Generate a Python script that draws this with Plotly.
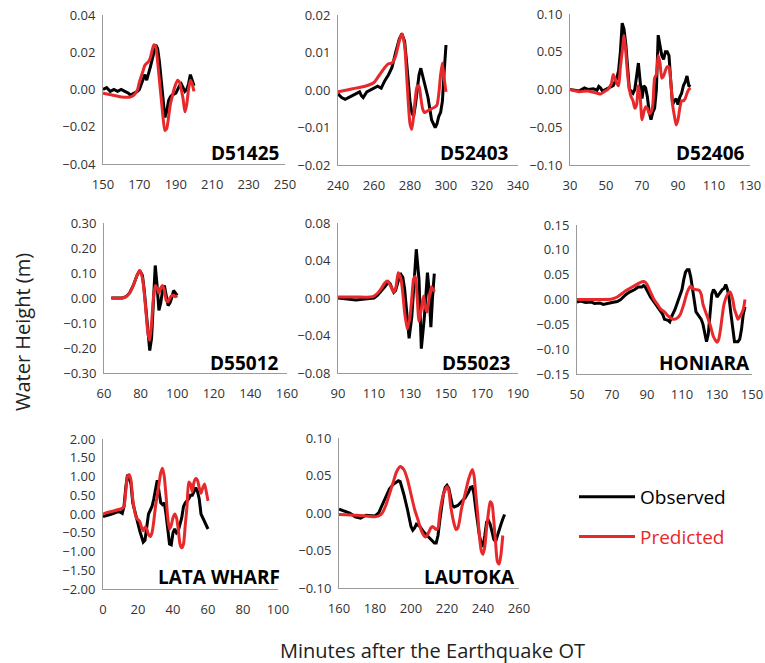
import plotly.graph_objects as go

W, H = 765, 663
FONT = "Century Gothic, Open Sans, sans-serif"
RED = "#e8292b"

stations = ["D51425", "D52403", "D52406", "D55012", "D55023", "HONIARA", "LATA WHARF", "LAUTOKA"]
x_ranges = [[150, 250], [240, 340], [30, 130], [60, 160], [90, 190], [50, 150], [0, 100], [160, 260]]
y_ranges = [[-0.04, 0.04], [-0.02, 0.02], [-0.10, 0.10], [-0.30, 0.30], [-0.08, 0.08], [-0.15, 0.15], [-2.0, 2.0], [-0.10, 0.10]]
y_dticks = [0.02, 0.01, 0.05, 0.10, 0.04, 0.05, 0.5, 0.05]
x_dtick = 20

# ---------------- D51425 ----------------
d51425_obs_t = [150, 152, 154, 156, 158, 160, 162, 164, 165, 167, 169, 170, 171, 172, 173, 174, 175, 176, 177, 178, 179, 180, 181, 182, 183, 184, 185, 186, 187, 188, 190, 191, 192, 193, 194, 195, 196, 197, 198, 199, 200]
d51425_obs_h = [0.000, 0.001, -0.001, 0.000, -0.001, 0.000, -0.001, -0.002, -0.003, -0.002, -0.001, 0.000, 0.003, 0.005, 0.008, 0.005, 0.008, 0.012, 0.016, 0.020, 0.024, 0.022, 0.015, 0.005, -0.005, -0.015, -0.012, -0.006, -0.004, -0.003, -0.002, 0.000, 0.002, 0.003, 0.001, -0.001, 0.000, 0.003, 0.008, 0.005, 0.002]
d51425_pred_t = [150, 155, 160, 165, 167, 169, 170, 172, 173, 175, 176, 177, 178, 179, 180, 181, 182, 183, 184, 185, 186, 187, 188, 189, 190, 191, 192, 193, 194, 195, 196, 197, 198, 199, 200]
d51425_pred_h = [-0.002, -0.003, -0.004, -0.004, -0.003, 0.000, 0.004, 0.010, 0.013, 0.015, 0.017, 0.021, 0.024, 0.023, 0.015, 0.005, -0.005, -0.015, -0.022, -0.021, -0.015, -0.008, -0.004, 0.000, 0.003, 0.005, 0.004, 0.000, -0.005, -0.012, -0.008, 0.000, 0.005, 0.003, -0.001]

# ---------------- D52403 ----------------
d52403_obs_t = [240, 242, 244, 246, 248, 250, 252, 253, 254, 256, 258, 260, 262, 264, 266, 268, 270, 272, 274, 275.5, 277, 278, 279, 280, 281, 282, 283, 284, 285, 286, 288, 290, 292, 294, 295, 296, 297, 298, 299, 300]
d52403_obs_h = [-0.001, -0.002, -0.0025, -0.002, -0.0015, -0.001, -0.0005, -0.0015, -0.002, -0.0005, 0.000, 0.0005, 0.001, 0.0005, 0.0025, 0.004, 0.006, 0.010, 0.0135, 0.015, 0.013, 0.008, 0.002, -0.003, -0.006, -0.007, -0.004, 0.001, 0.004, 0.0058, 0.002, -0.002, -0.008, -0.010, -0.009, -0.007, -0.006, -0.003, 0.005, 0.012]
d52403_pred_t = [240, 245, 250, 255, 260, 263, 266, 268, 270, 272, 274, 275.5, 277, 278, 279, 280, 281, 282, 283, 284, 285, 286, 287, 288, 290, 292, 294, 295, 296, 297, 298, 299, 300]
d52403_pred_h = [-0.0005, 0.000, 0.0005, 0.001, 0.002, 0.004, 0.006, 0.007, 0.0072, 0.009, 0.013, 0.015, 0.012, 0.005, -0.003, -0.009, -0.0105, -0.007, -0.002, 0.001, 0.001, -0.002, -0.005, -0.006, -0.0055, -0.005, -0.0045, -0.004, -0.001, 0.004, 0.0072, 0.003, -0.0005]

# ---------------- D52406 ----------------
d52406_obs_t = [30, 35, 38, 40, 43, 45, 46, 47, 48, 50, 52, 54, 55, 56, 57, 58, 59, 60, 61, 62, 63, 64, 65, 66, 67, 68, 69, 70, 71, 72, 73, 74, 75, 76, 77, 78, 79, 80, 81, 82, 83, 84, 85, 86, 87, 88, 89, 90, 91, 92, 93, 94, 95, 96, 97]
d52406_obs_h = [0.000, -0.002, 0.002, 0.000, 0.001, -0.001, 0.004, 0.002, -0.002, 0.000, 0.003, 0.005, 0.010, 0.015, 0.025, 0.050, 0.088, 0.080, 0.060, 0.025, 0.000, -0.002, -0.005, 0.000, 0.015, 0.035, 0.010, -0.012, 0.005, 0.002, -0.010, -0.030, -0.040, -0.030, -0.025, 0.000, 0.072, 0.060, 0.045, 0.040, 0.050, 0.050, 0.045, 0.010, -0.020, -0.015, -0.012, -0.020, -0.010, -0.005, 0.005, 0.010, 0.018, 0.005, 0.004]
d52406_pred_t = [30, 35, 40, 45, 47, 49, 51, 53, 54, 55, 56, 57, 58, 59, 60, 61, 62, 63, 64, 65, 66, 67, 68, 69, 70, 71, 72, 73, 74, 75, 76, 77, 78, 79, 80, 81, 82, 83, 84, 85, 86, 87, 88, 89, 90, 91, 92, 93, 94, 95, 96, 97]
d52406_pred_h = [0.000, -0.003, -0.002, -0.005, -0.006, -0.003, 0.000, 0.008, 0.020, 0.015, 0.008, 0.005, 0.030, 0.050, 0.072, 0.050, 0.020, 0.000, -0.010, -0.015, -0.025, -0.020, 0.005, -0.010, -0.040, -0.030, -0.023, -0.025, -0.032, -0.030, -0.020, 0.015, 0.020, 0.045, 0.035, 0.015, 0.018, 0.025, 0.030, 0.030, 0.010, -0.020, -0.035, -0.047, -0.040, -0.025, -0.015, -0.015, -0.012, -0.005, 0.000, 0.002]

# ---------------- D55012 ----------------
d55012_obs_t = [64, 70, 72, 74, 76, 78, 79.5, 81, 82, 83, 84, 85, 86, 87, 88, 89, 90, 91, 92, 93, 94, 95, 96, 97, 98, 99, 100]
d55012_obs_h = [0.00, 0.00, 0.005, 0.02, 0.05, 0.09, 0.11, 0.09, 0.03, -0.06, -0.15, -0.21, -0.16, 0.00, 0.13, 0.05, -0.05, -0.02, 0.03, 0.05, 0.00, -0.03, -0.02, 0.00, 0.03, 0.02, 0.01]
d55012_pred_t = [64, 70, 72, 74, 76, 78, 79.5, 81, 82, 83, 84, 85, 86, 87, 88, 89, 90, 91, 92, 93, 94, 95, 96, 97, 98, 99, 100]
d55012_pred_h = [0.00, 0.00, 0.005, 0.02, 0.05, 0.09, 0.11, 0.08, 0.02, -0.06, -0.14, -0.17, -0.10, 0.00, 0.05, 0.04, 0.02, 0.04, 0.05, 0.03, -0.01, -0.015, 0.00, 0.01, 0.01, 0.005, 0.01]

# ---------------- D55023 ----------------
d55023_obs_t = [90, 95, 100, 105, 110, 112, 114, 116, 118, 119, 120, 121, 122, 123, 124, 125, 126, 127, 128, 129, 129.5, 131, 132, 133.5, 135, 136.3, 138, 139.7, 140.5, 141.6, 142.5, 143.5]
d55023_obs_h = [0.000, -0.001, -0.002, -0.001, 0.000, 0.003, 0.007, 0.012, 0.017, 0.015, 0.010, 0.006, 0.008, 0.015, 0.022, 0.025, 0.022, 0.010, -0.015, -0.035, -0.043, -0.020, 0.010, 0.052, 0.020, -0.054, -0.020, 0.027, 0.010, -0.031, 0.000, 0.026]
d55023_pred_t = [90, 100, 108, 110, 112, 114, 116, 117, 118, 120, 121, 122, 123, 123.5, 125, 126, 127, 128.5, 130, 131, 132, 133, 134, 135, 136, 137.5, 138.5, 139.5, 141, 142, 143, 144]
d55023_pred_h = [0.001, 0.001, 0.001, 0.002, 0.005, 0.010, 0.016, 0.018, 0.017, 0.010, 0.006, 0.010, 0.022, 0.027, 0.020, 0.005, -0.015, -0.033, -0.020, 0.000, 0.020, 0.023, 0.000, -0.025, -0.015, 0.002, -0.010, -0.015, 0.005, 0.012, 0.008, 0.007]

# ---------------- HONIARA ----------------
honiara_obs_t = [50, 52, 55, 58, 60, 63, 65, 67, 70, 73, 75, 78, 80, 83, 85, 87, 88, 89, 90, 92, 95, 97, 99, 100, 102, 103, 104, 106, 108, 110, 111, 112, 113, 114, 115, 116, 117, 118, 119, 120, 121, 122, 123, 124, 125, 126, 127, 128, 129, 130, 131, 132, 133, 134, 135, 136, 137, 138, 139, 140, 141, 142, 143, 144, 145, 146]
honiara_obs_h = [-0.005, -0.003, -0.006, -0.005, -0.008, -0.007, -0.010, -0.008, -0.006, -0.004, 0.000, 0.010, 0.015, 0.020, 0.025, 0.025, 0.028, 0.025, 0.018, 0.005, -0.010, -0.020, -0.030, -0.040, -0.042, -0.045, -0.035, -0.020, 0.000, 0.020, 0.040, 0.055, 0.060, 0.060, 0.045, 0.020, 0.000, -0.025, -0.030, -0.035, -0.040, -0.050, -0.065, -0.085, -0.070, -0.030, 0.010, 0.020, 0.015, 0.005, 0.010, 0.015, 0.020, 0.022, 0.030, 0.020, 0.000, -0.030, -0.060, -0.085, -0.085, -0.085, -0.080, -0.060, -0.030, -0.015]
honiara_pred_t = [50, 55, 60, 65, 70, 73, 75, 78, 80, 83, 86, 88, 89, 90, 92, 94, 96, 98, 100, 102, 104, 105.5, 107, 109, 111, 113, 115, 116, 118, 120, 121, 122, 123, 124, 126, 128, 130, 131, 132, 134, 136, 137.5, 139, 140, 141, 142, 143, 145, 146]
honiara_pred_h = [0.000, 0.000, 0.000, 0.000, 0.001, 0.005, 0.010, 0.018, 0.022, 0.028, 0.034, 0.036, 0.035, 0.030, 0.015, 0.000, -0.010, -0.020, -0.025, -0.033, -0.038, -0.040, -0.038, -0.030, -0.010, 0.015, 0.027, 0.022, 0.020, 0.018, 0.010, -0.010, -0.020, -0.030, -0.050, -0.075, -0.086, -0.080, -0.060, -0.010, 0.010, 0.015, 0.000, -0.020, -0.030, -0.040, -0.035, -0.020, 0.000]

# ---------------- LATA WHARF ----------------
lata_obs_t = [0, 2, 5, 8, 10, 11, 12, 13, 14, 15, 16, 17, 18, 19, 20, 21, 22, 23, 24, 25, 26, 27, 28, 29, 30, 31, 32, 33, 34, 35, 36, 37, 38, 39, 40, 41, 42, 43, 44, 45, 46, 47, 48, 49, 50, 51, 52, 53, 54, 55, 56, 57, 58, 59, 60]
lata_obs_h = [-0.07, -0.05, 0.00, 0.05, 0.05, 0.02, 0.20, 0.70, 1.05, 0.95, 0.80, 0.30, 0.10, -0.10, -0.30, -0.45, -0.60, -0.75, -0.70, -0.30, 0.00, 0.10, 0.20, 0.40, 0.70, 0.90, 0.60, 0.30, 0.25, 0.30, 0.00, -0.40, -0.80, -0.82, -0.50, -0.40, -0.50, -0.45, -0.30, -0.10, 0.20, 0.30, 0.35, 0.40, 0.50, 0.50, 0.60, 0.70, 0.60, 0.40, 0.00, -0.10, -0.20, -0.30, -0.40]
lata_pred_t = [0, 3, 6, 9, 11, 12, 13, 14, 15, 16, 17, 18, 19, 20, 21, 22, 23, 24, 25, 26, 27, 28, 29, 30, 31, 32, 33, 34, 35, 36, 37, 38, 39, 40, 41, 42, 43, 44, 45, 46, 47, 48, 49, 50, 51, 52, 53, 54, 55, 56, 57, 58, 59, 60]
lata_pred_h = [0.00, 0.05, 0.08, 0.12, 0.15, 0.20, 0.60, 1.00, 1.05, 0.90, 0.40, 0.10, -0.10, -0.15, -0.20, -0.35, -0.45, -0.35, -0.40, -0.55, -0.60, -0.50, -0.20, 0.20, 0.50, 0.80, 1.10, 1.22, 1.00, 0.50, -0.10, -0.40, -0.30, -0.10, 0.00, -0.10, -0.40, -0.80, -0.90, -0.80, -0.30, 0.20, 0.85, 0.80, 0.60, 0.85, 0.95, 0.90, 0.70, 0.55, 0.70, 0.80, 0.60, 0.35]

# ---------------- LAUTOKA ----------------
lautoka_obs_t = [160, 163, 166, 169, 172, 175, 178, 180, 182, 184, 186, 188, 190, 193, 194, 195, 196, 198, 200, 201, 202, 203, 205, 207, 209, 211, 213, 214, 215, 216, 217, 218, 219, 220, 221, 222, 223, 224, 226, 228, 230, 232, 233, 234, 235, 236, 237, 238, 239, 240, 241, 242, 243, 244, 245, 246, 247, 248, 249, 250, 251, 252]
lautoka_obs_h = [0.005, 0.003, 0.000, -0.005, -0.007, -0.003, -0.004, -0.004, 0.000, 0.010, 0.022, 0.032, 0.038, 0.043, 0.042, 0.035, 0.025, 0.005, -0.018, -0.023, -0.020, -0.015, -0.018, -0.025, -0.030, -0.035, -0.040, -0.040, -0.030, -0.010, 0.010, 0.025, 0.034, 0.037, 0.033, 0.020, 0.010, 0.008, 0.010, 0.015, 0.020, 0.028, 0.034, 0.035, 0.025, 0.005, -0.015, -0.030, -0.040, -0.045, -0.030, -0.012, -0.010, -0.015, -0.025, -0.035, -0.038, -0.030, -0.020, -0.015, -0.008, -0.002]
lautoka_pred_t = [160, 170, 175, 180, 182, 184, 186, 188, 190, 192, 194, 196, 198, 200, 202, 204, 206, 208, 209, 210, 211, 212, 213, 214, 215, 216, 218, 220, 221, 222, 224, 225, 226, 227, 228, 230, 232, 234, 235, 236, 237, 238, 239, 240, 241, 242, 243, 244, 245, 246, 247, 248, 249, 250, 251]
lautoka_pred_h = [-0.002, -0.003, -0.004, -0.005, -0.004, 0.000, 0.010, 0.025, 0.040, 0.055, 0.062, 0.058, 0.045, 0.025, 0.005, -0.010, -0.025, -0.032, -0.030, -0.025, -0.020, -0.018, -0.020, -0.022, -0.020, 0.000, 0.025, 0.035, 0.030, 0.010, -0.015, -0.022, -0.020, -0.010, 0.005, 0.025, 0.045, 0.058, 0.050, 0.025, 0.000, -0.030, -0.050, -0.055, -0.045, -0.020, 0.000, 0.015, 0.012, -0.010, -0.040, -0.065, -0.068, -0.055, -0.030]

obs_t = [d51425_obs_t, d52403_obs_t, d52406_obs_t, d55012_obs_t, d55023_obs_t, honiara_obs_t, lata_obs_t, lautoka_obs_t]
obs_h = [d51425_obs_h, d52403_obs_h, d52406_obs_h, d55012_obs_h, d55023_obs_h, honiara_obs_h, lata_obs_h, lautoka_obs_h]
pred_t = [d51425_pred_t, d52403_pred_t, d52406_pred_t, d55012_pred_t, d55023_pred_t, honiara_pred_t, lata_pred_t, lautoka_pred_t]
pred_h = [d51425_pred_h, d52403_pred_h, d52406_pred_h, d55012_pred_h, d55023_pred_h, honiara_pred_h, lata_pred_h, lautoka_pred_h]

# plot-area boxes in pixels: (left, right, top, bottom)
boxes = [(103, 285, 15, 164), (338, 518, 15, 165), (570, 750, 14, 165),
         (104, 287, 223, 373), (338, 518, 223, 373), (577, 752, 225, 374),
         (103, 278, 439, 589), (339, 519, 438, 588)]

fig = go.Figure()
layout = {}
for i in range(8):
    n = "" if i == 0 else str(i + 1)
    xa, ya = "x" + n, "y" + n
    l, r, t, b = boxes[i]
    layout["xaxis" + n] = dict(
        domain=[l / W, r / W], anchor=ya, range=x_ranges[i], dtick=x_dtick, tick0=x_ranges[i][0],
        showgrid=False, zeroline=False, showline=True, linecolor="#9a9a9a", linewidth=1,
        automargin=False, ticklabeloverflow="allow",
        ticks="", ticklabelstandoff=8, tickfont=dict(family=FONT, size=13, color="#333333"),
    )
    layout["yaxis" + n] = dict(
        domain=[1 - b / H, 1 - t / H], anchor=xa, range=y_ranges[i], dtick=y_dticks[i], tick0=0,
        tickformat=".2f", showgrid=False, zeroline=False, showline=True, linecolor="#9a9a9a", linewidth=1,
        automargin=False, ticklabeloverflow="allow",
        ticks="", ticklabelstandoff=4, tickfont=dict(family=FONT, size=13, color="#333333"),
    )
    fig.add_trace(go.Scatter(x=obs_t[i], y=obs_h[i], xaxis=xa, yaxis=ya, mode="lines",
                             line=dict(color="black", width=3), name="Observed",
                             legendgroup="obs", showlegend=(i == 0)))
    fig.add_trace(go.Scatter(x=pred_t[i], y=pred_h[i], xaxis=xa, yaxis=ya, mode="lines",
                             line=dict(color=RED, width=3, shape="spline", smoothing=0.6),
                             name="<span style='color:%s'>Predicted</span>" % RED,
                             legendgroup="pred", showlegend=(i == 0)))

annotations = []
label_pos = [(281, 153), (511, 153), (747, 153), (281, 363), (513, 363), (752, 363), (282, 577), (517, 577)]
for i, (px, py) in enumerate(label_pos):
    annotations.append(dict(text="<b>%s</b>" % stations[i], x=px / W, y=1 - py / H, xref="paper", yref="paper",
                            xanchor="right", yanchor="middle", showarrow=False,
                            font=dict(family=FONT, size=19, color="black")))
annotations.append(dict(text="Water Height (m)", x=22 / W, y=1 - 332 / H, xref="paper", yref="paper",
                        textangle=-90, showarrow=False, xanchor="center", yanchor="middle",
                        font=dict(family=FONT, size=20, color="#222222")))
annotations.append(dict(text="Minutes after the Earthquake OT", x=432 / W, y=1 - 650 / H, xref="paper", yref="paper",
                        showarrow=False, xanchor="center", yanchor="middle",
                        font=dict(family=FONT, size=20, color="#222222")))

fig.update_layout(
    **layout,
    width=W, height=H, margin=dict(l=0, r=0, t=0, b=0, autoexpand=False),
    paper_bgcolor="white", plot_bgcolor="white",
    annotations=annotations,
    showlegend=True,
    legend=dict(x=574 / W, y=1 - 478 / H, xanchor="left", yanchor="top", bgcolor="rgba(0,0,0,0)",
                font=dict(family=FONT, size=19, color="black"), tracegroupgap=12, itemwidth=56),
)
fig.write_html("out.html", config={"displayModeBar": False},
               post_script="document.body.style.margin='0';document.body.style.overflow='hidden';")
